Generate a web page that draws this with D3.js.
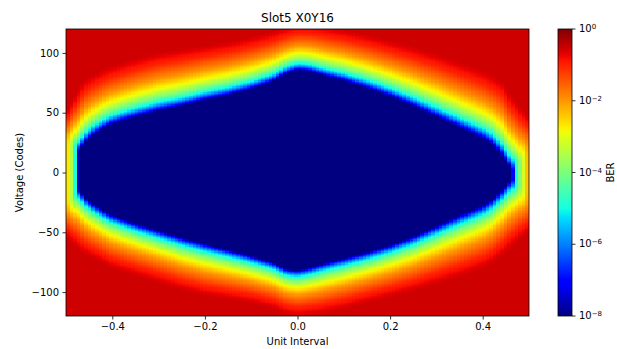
<!DOCTYPE html>
<html>
<head>
<meta charset="utf-8">
<script src="https://cdn.jsdelivr.net/npm/d3@7"></script>
<style>
  body { margin: 0; background: #fff; }
  svg { display: block; font-family: "DejaVu Sans", sans-serif; }
</style>
</head>
<body>
<div id="chart"></div>
<script>
// eye contours (voltage codes at each UI knot)
const uiKnots    = [-0.5, -0.47, -0.46, -0.44, -0.42, -0.4, -0.35, -0.3, -0.25, -0.2, -0.15, -0.1, -0.05, -0.025, 0, 0.025, 0.05, 0.1, 0.15, 0.2, 0.25, 0.3, 0.35, 0.4, 0.42, 0.44, 0.46, 0.48, 0.5];
// inner edge of the eye (BER 1e-8)
const upperInner = [12, 19, 25, 32, 37, 41, 47, 52, 56, 61, 65, 70, 77, 83, 86, 85, 82, 77, 71, 64, 56, 47, 38, 29, 24, 16, 4, -2, -2];
const lowerInner = [-10, -14, -20, -26, -31, -35, -42, -48, -54, -59, -64, -69, -75, -80, -81, -79, -76, -71, -66, -60, -53, -44, -35, -27, -22, -15, -6, -2, -2];
// outer edge where BER saturates
const upperOuter = [52, 72, 78, 83, 87, 90, 96, 101, 104, 107, 110, 114, 119, 122, 124, 124, 123, 120, 116, 111, 106, 100, 93, 86, 82, 78, 66, 56, 48];
const lowerOuter = [-54, -65, -68, -72, -76, -80, -86, -92, -98, -103, -106, -109, -114, -118, -120, -119, -118, -114, -109, -104, -99, -93, -87, -80, -76, -70, -63, -56, -50];
// horizontal (timing) edges of the eye, log10 BER
const sideKnots = [-0.5, -0.492, -0.484, -0.48, -0.475, -0.471, 0.46, 0.465, 0.472, 0.48, 0.49, 0.5];
const sideLog   = [-2.4, -3, -4, -5, -7, -8, -8, -7, -5, -4, -3, -2];
// how BER rises across the transition band (fraction of band -> log10 BER)
const profileFrac = [0, 0.04, 0.09, 0.15, 0.24, 0.36, 0.54, 0.8, 1];
const profileLog  = [-8, -7, -6, -5, -4, -3, -2, -1, -0.55];

const uiSteps = 128;
const voltMin = -120, voltMax = 120;
const xTicks = [-0.4, -0.2, 0, 0.2, 0.4];
const yTicks = [-100, -50, 0, 50, 100];
const berTicks = [1e-8, 1e-6, 1e-4, 1e-2, 1];
const berExp = ["\u22128", "\u22126", "\u22124", "\u22122", "0"];

// matplotlib jet
const jetR = d3.scaleLinear().domain([0, 0.35, 0.66, 0.89, 1]).range([0, 0, 1, 1, 0.5]).clamp(true);
const jetG = d3.scaleLinear().domain([0, 0.125, 0.375, 0.64, 0.91, 1]).range([0, 0, 1, 1, 0, 0]).clamp(true);
const jetB = d3.scaleLinear().domain([0, 0.11, 0.34, 0.65, 1]).range([0.5, 1, 1, 0, 0]).clamp(true);
const jet = t => d3.rgb(jetR(t) * 255, jetG(t) * 255, jetB(t) * 255).formatHex();

const W = 617, H = 349;
const margin = { top: 29, left: 66, right: 88, bottom: 33 };
const width = W - margin.left - margin.right;
const height = H - margin.top - margin.bottom;

const svg = d3.select("#chart").append("svg")
  .attr("width", W).attr("height", H);

const x = d3.scaleLinear().domain([-0.5, 0.5]).range([margin.left, margin.left + width]);
const y = d3.scaleLinear().domain([voltMin, voltMax]).range([margin.top + height, margin.top]);
const norm = d3.scaleLog().domain([1e-8, 1]).range([0, 1]).clamp(true);

const upIn = d3.scaleLinear().domain(uiKnots).range(upperInner);
const upOut = d3.scaleLinear().domain(uiKnots).range(upperOuter);
const loIn = d3.scaleLinear().domain(uiKnots).range(lowerInner);
const loOut = d3.scaleLinear().domain(uiKnots).range(lowerOuter);
const side = d3.scaleLinear().domain(sideKnots).range(sideLog).clamp(true);
const prof = d3.scaleLinear().domain(profileFrac).range(profileLog).clamp(true);

function bandBer(dist, band) {
  if (dist <= 0) return 0;
  const l = prof(dist / band);
  return l <= -8 ? 0 : Math.pow(10, l);
}

const cells = [];
for (let i = 0; i < uiSteps; i++) {
  const u0 = -0.5 + i / uiSteps;
  const uc = u0 + 0.5 / uiSteps;
  const s = side(uc) <= -8 ? 0 : Math.pow(10, side(uc));
  for (let v = voltMin; v <= voltMax; v++) {
    let ber = s
      + bandBer(v - upIn(uc), upOut(uc) - upIn(uc))
      + bandBer(loIn(uc) - v, loIn(uc) - loOut(uc));
    ber = Math.min(Math.max(ber, 1e-8), Math.pow(10, -0.55));
    cells.push({ u0, v, ber });
  }
}

svg.append("clipPath").attr("id", "plotclip")
  .append("rect")
  .attr("x", margin.left).attr("y", margin.top)
  .attr("width", width).attr("height", height);

svg.append("g")
  .attr("clip-path", "url(#plotclip)")
  .attr("shape-rendering", "crispEdges")
  .selectAll("rect")
  .data(cells)
  .join("rect")
  .attr("x", d => x(d.u0))
  .attr("width", x(1 / uiSteps) - x(0) + 0.6)
  .attr("y", d => y(d.v + 0.5))
  .attr("height", y(0) - y(1) + 0.6)
  .attr("fill", d => jet(norm(d.ber)));

// frame
svg.append("rect")
  .attr("x", margin.left).attr("y", margin.top)
  .attr("width", width).attr("height", height)
  .attr("fill", "none").attr("stroke", "#000").attr("stroke-width", 0.8);

// axes
const xAxis = svg.append("g")
  .attr("transform", `translate(0, ${margin.top + height})`)
  .call(d3.axisBottom(x).tickValues(xTicks).tickFormat(d3.format(".1f")).tickSize(3.5).tickPadding(3.5));
const yAxis = svg.append("g")
  .attr("transform", `translate(${margin.left}, 0)`)
  .call(d3.axisLeft(y).tickValues(yTicks).tickFormat(d3.format("d")).tickSize(3.5).tickPadding(3.5));
[xAxis, yAxis].forEach(a => {
  a.select(".domain").remove();
  a.selectAll("text").attr("font-size", 10).attr("font-family", "DejaVu Sans").attr("fill", "#000");
  a.selectAll("line").attr("stroke", "#000").attr("stroke-width", 0.8);
});

svg.append("text")
  .attr("x", margin.left + width / 2).attr("y", 22)
  .attr("text-anchor", "middle").attr("font-size", 12)
  .text("Slot5 X0Y16");

svg.append("text")
  .attr("x", margin.left + width / 2).attr("y", 345)
  .attr("text-anchor", "middle").attr("font-size", 10)
  .text("Unit Interval");

svg.append("text")
  .attr("transform", `translate(23, ${margin.top + height / 2}) rotate(-90)`)
  .attr("text-anchor", "middle").attr("font-size", 10)
  .text("Voltage (Codes)");

// colorbar
const cbX = 558, cbW = 14;
const cbY = d3.scaleLog().domain([1e-8, 1]).range([margin.top + height, margin.top]);
const grad = svg.append("defs").append("linearGradient")
  .attr("id", "jetgrad").attr("x1", 0).attr("y1", 1).attr("x2", 0).attr("y2", 0);
grad.selectAll("stop")
  .data(d3.range(0, 1.0001, 1 / 64))
  .join("stop")
  .attr("offset", d => d)
  .attr("stop-color", d => jet(d));
svg.append("rect")
  .attr("x", cbX).attr("y", margin.top)
  .attr("width", cbW).attr("height", height)
  .attr("fill", "url(#jetgrad)")
  .attr("stroke", "#000").attr("stroke-width", 0.8);

const cbTicks = svg.append("g").selectAll("g")
  .data(berTicks)
  .join("g")
  .attr("transform", d => `translate(${cbX + cbW}, ${cbY(d)})`);
cbTicks.append("line").attr("x2", 3.5).attr("stroke", "#000").attr("stroke-width", 0.8);
const cbText = cbTicks.append("text")
  .attr("x", 7).attr("dy", "0.32em").attr("font-size", 10);
cbText.append("tspan").text("10");
cbText.append("tspan")
  .attr("dy", "-0.45em").attr("font-size", 7)
  .text((d, i) => berExp[i]);

svg.append("text")
  .attr("transform", `translate(614, ${margin.top + height / 2}) rotate(-90)`)
  .attr("text-anchor", "middle").attr("font-size", 10)
  .text("BER");
</script>
</body>
</html>
